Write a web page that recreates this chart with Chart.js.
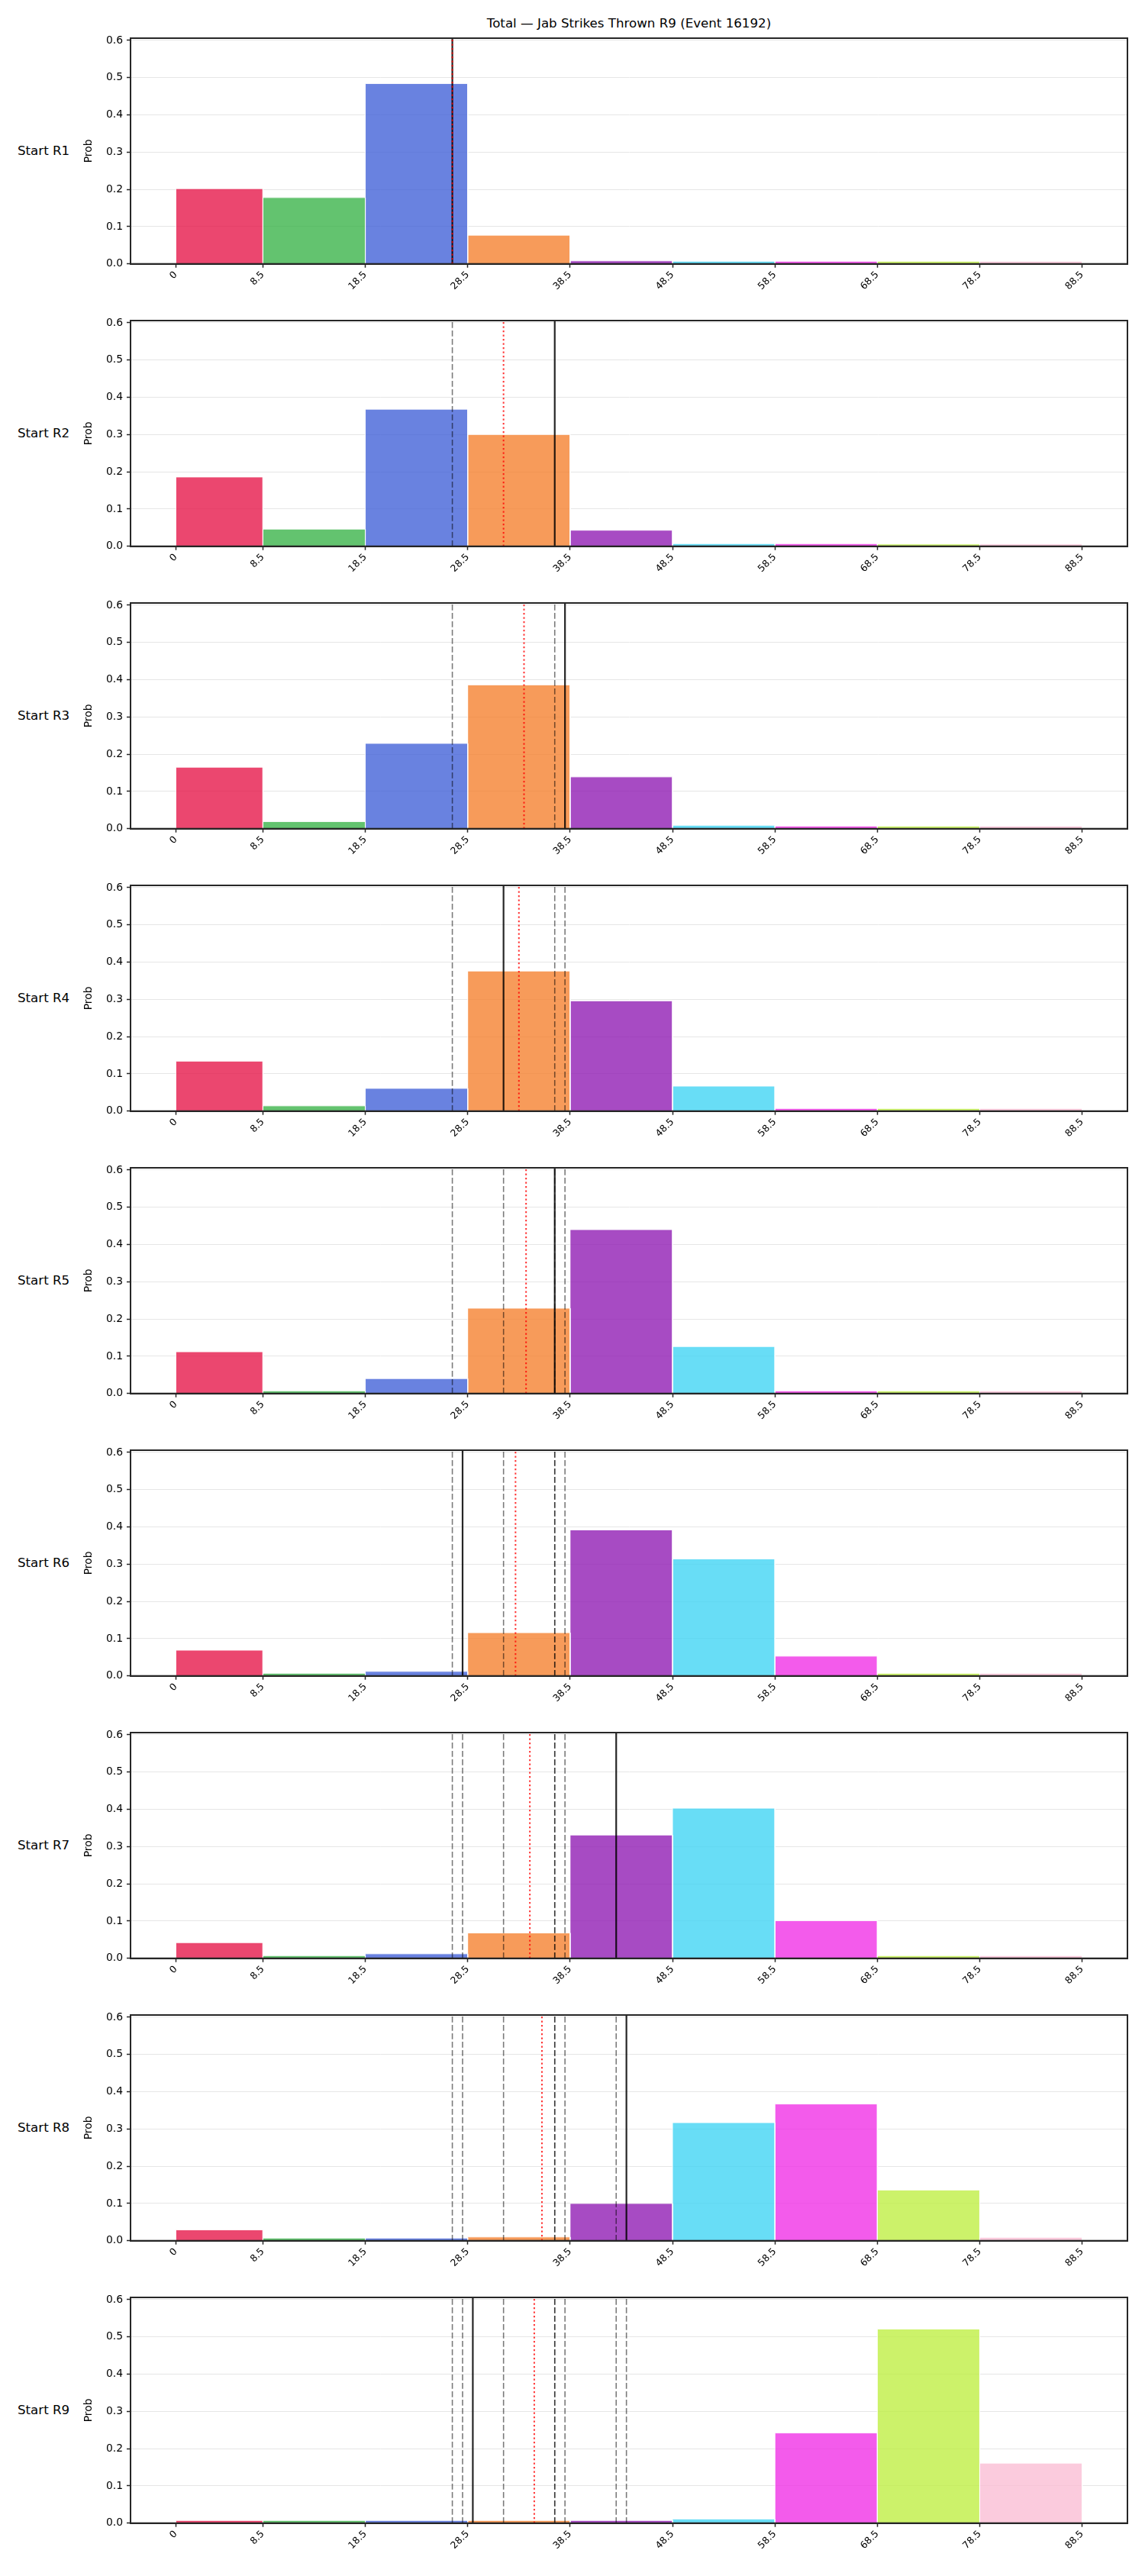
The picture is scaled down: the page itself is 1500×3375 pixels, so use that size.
<!DOCTYPE html>
<html>
<head>
<meta charset="utf-8">
<script src="https://cdn.jsdelivr.net/npm/chart.js@4.4.1/dist/chart.umd.min.js"></script>
<style>
  html, body { margin: 0; padding: 0; background: #ffffff; }
  body { width: 1500px; height: 3375px; position: relative; overflow: hidden; font-family: "DejaVu Sans", sans-serif; }
  .panel { position: absolute; left: 0; }
  .title { position: absolute; top: 21px; left: 171px; width: 1306px; text-align: center; font-size: 16.67px; line-height: 20px; color: #000; white-space: nowrap; }
  .rowlab { position: absolute; left: 23px; font-size: 16.67px; line-height: 20px; color: #000; white-space: nowrap; }
</style>
</head>
<body>
<div class="title">Total — Jab Strikes Thrown R9 (Event 16192)</div>
<div id="wrap"></div>
<script>
// ---------- data ----------
const binEdges = [0, 8.5, 18.5, 28.5, 38.5, 48.5, 58.5, 68.5, 78.5, 88.5];
const tickLabels = ['0', '8.5', '18.5', '28.5', '38.5', '48.5', '58.5', '68.5', '78.5', '88.5'];
const yTickValues = [0, 0.1, 0.2, 0.3, 0.4, 0.5, 0.6];
const rowLabels = ['Start R1', 'Start R2', 'Start R3', 'Start R4', 'Start R5', 'Start R6', 'Start R7', 'Start R8', 'Start R9'];
const binColors = ['#e6194b', '#3cb44b', '#4363d8', '#f58231', '#911eb4', '#42d4f4', '#f032e6', '#bfef45', '#fabed4'];

const probR1 = [0.202, 0.178, 0.484, 0.077, 0.008, 0.007, 0.007, 0.007, 0.007];
const probR2 = [0.186, 0.046, 0.368, 0.300, 0.043, 0.007, 0.007, 0.006, 0.006];
const probR3 = [0.165, 0.019, 0.229, 0.386, 0.139, 0.009, 0.007, 0.007, 0.007];
const probR4 = [0.134, 0.014, 0.061, 0.376, 0.296, 0.067, 0.007, 0.007, 0.007];
const probR5 = [0.112, 0.007, 0.040, 0.229, 0.440, 0.126, 0.007, 0.007, 0.007];
const probR6 = [0.069, 0.007, 0.012, 0.116, 0.392, 0.314, 0.053, 0.007, 0.007];
const probR7 = [0.042, 0.007, 0.012, 0.068, 0.331, 0.403, 0.101, 0.007, 0.007];
const probR8 = [0.029, 0.007, 0.007, 0.010, 0.100, 0.317, 0.367, 0.136, 0.009];
const probR9 = [0.007, 0.007, 0.007, 0.007, 0.007, 0.011, 0.242, 0.521, 0.161];
const probRows = [probR1, probR2, probR3, probR4, probR5, probR6, probR7, probR8, probR9];

// solid black line in each row (current), earlier rows' values shown dashed
const currentLine = [27, 37, 38, 32, 37, 28, 43, 44, 29];
// red dotted line in each row
const meanLine = [27, 32, 34, 33.5, 34.2, 33.17, 34.57, 35.75, 35];

const Y_MAX = 0.606;
const X_MIN = -4.425, X_MAX = 92.925;

// ---------- helpers ----------
function rgba(hex, a) {
  const n = parseInt(hex.slice(1), 16);
  return `rgba(${(n >> 16) & 255},${(n >> 8) & 255},${n & 255},${a})`;
}

const framePlugin = {
  id: 'frame',
  afterDraw(chart) {
    const { ctx, chartArea: a } = chart;
    ctx.save();
    ctx.strokeStyle = '#262626';
    ctx.lineWidth = 2;
    ctx.strokeRect(a.left, a.top, a.right - a.left, a.bottom - a.top);
    ctx.restore();
  }
};

const wrap = document.getElementById('wrap');
const PITCH = 370;

probRows.forEach((probs, r) => {
  const canvas = document.createElement('canvas');
  canvas.className = 'panel';
  canvas.width = 1500;
  canvas.height = 420;
  canvas.style.width = '1500px';
  canvas.style.height = '420px';
  canvas.style.top = (PITCH * r) + 'px';
  canvas.style.zIndex = String(20 - r);
  wrap.appendChild(canvas);

  const lab = document.createElement('div');
  lab.className = 'rowlab';
  lab.textContent = rowLabels[r];
  lab.style.top = (PITCH * r + 188) + 'px';
  wrap.appendChild(lab);

  const datasets = [];
  probs.forEach((p, i) => {
    datasets.push({
      data: [
        { x: binEdges[i], y: 0 }, { x: binEdges[i], y: p },
        { x: binEdges[i + 1], y: p }, { x: binEdges[i + 1], y: 0 }
      ],
      backgroundColor: rgba(binColors[i], 0.8),
      borderColor: '#ffffff',
      borderWidth: 0.9,
      fill: 'origin',
      pointRadius: 0,
      tension: 0,
      order: 5
    });
  });
  for (let j = 0; j < r; j++) {
    datasets.push({
      data: [{ x: currentLine[j], y: 0 }, { x: currentLine[j], y: Y_MAX }],
      borderColor: 'rgba(0,0,0,0.52)',
      borderWidth: 1.6,
      borderDash: [7.7, 3.3],
      fill: false, pointRadius: 0, order: 3
    });
  }
  datasets.push({
    data: [{ x: currentLine[r], y: 0 }, { x: currentLine[r], y: Y_MAX }],
    borderColor: 'rgba(0,0,0,0.85)',
    borderWidth: 2.2,
    fill: false, pointRadius: 0, order: 2
  });
  datasets.push({
    data: [{ x: meanLine[r], y: 0 }, { x: meanLine[r], y: Y_MAX }],
    borderColor: 'rgba(255,0,0,0.8)',
    borderWidth: 2,
    borderDash: [2.1, 3.4],
    fill: false, pointRadius: 0, order: 1
  });

  new Chart(canvas, {
    type: 'line',
    data: { datasets },
    plugins: [framePlugin],
    options: {
      responsive: false,
      animation: false,
      devicePixelRatio: 1,
      events: [],
      layout: { padding: { left: 104, right: 23, top: 50, bottom: 0 } },
      plugins: { legend: { display: false }, tooltip: { enabled: false } },
      scales: {
        x: {
          type: 'linear',
          min: X_MIN, max: X_MAX,
          afterBuildTicks: (s) => { s.ticks = binEdges.map(v => ({ value: v })); },
          afterFit: (s) => { s.height = 74.3; s.paddingLeft = 0; s.paddingRight = 0; },
          ticks: {
            autoSkip: false, maxRotation: 45, minRotation: 45,
            color: '#000', padding: 2,
            font: { family: 'DejaVu Sans', size: 12.5 },
            callback: (v, i) => tickLabels[i]
          },
          grid: { display: true, drawOnChartArea: false, drawTicks: true, tickLength: 5, tickColor: '#262626', tickWidth: 1.5 },
          border: { display: true, color: '#262626', width: 2 }
        },
        y: {
          min: 0, max: Y_MAX,
          afterBuildTicks: (s) => { s.ticks = yTickValues.map(v => ({ value: v })); },
          afterFit: (s) => { s.width = 67; s.paddingTop = 0; s.paddingBottom = 0; },
          ticks: {
            color: '#000', padding: 5,
            font: { family: 'DejaVu Sans', size: 13.9 },
            callback: (v) => Number(v).toFixed(1)
          },
          grid: { color: '#e6e6e6', lineWidth: 1, drawTicks: true, tickLength: 5, tickColor: '#262626', tickWidth: 1.5 },
          border: { display: true, color: '#262626', width: 2 },
          title: { display: true, text: 'Prob', color: '#000', font: { family: 'DejaVu Sans', size: 13.9 }, padding: { top: 4, bottom: 4 } }
        }
      }
    }
  });
});
</script>
</body>
</html>
